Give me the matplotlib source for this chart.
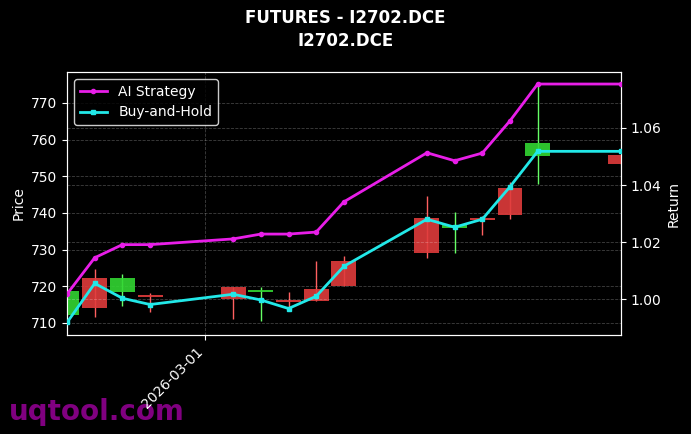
import matplotlib
matplotlib.use("Agg")
import matplotlib.pyplot as plt
import matplotlib.dates as mdates
import pandas as pd

dates = ["2026-02-24", "2026-02-25", "2026-02-26", "2026-02-27", "2026-03-02",
         "2026-03-03", "2026-03-04", "2026-03-05", "2026-03-06", "2026-03-09",
         "2026-03-10", "2026-03-11", "2026-03-12", "2026-03-13", "2026-03-16"]
opens = [718.7, 714.2, 722.3, 717.1, 716.5, 718.7, 715.6, 716.0, 720.2, 729.2,
         736.7, 738.1, 739.4, 759.0, 753.4]
closes = [712.2, 722.3, 718.5, 717.4, 719.9, 718.3, 716.3, 719.3, 726.9, 738.5,
          735.8, 738.5, 746.7, 755.6, 755.8]
highs = [718.7, 724.6, 723.4, 718.1, 719.9, 719.7, 718.4, 727.0, 728.3, 744.6,
         740.3, 739.2, 748.5, 775.3, 755.8]
lows = [712.2, 711.6, 714.6, 713.1, 711.0, 710.6, 714.4, 716.0, 720.2, 727.6,
        729.2, 734.0, 738.3, 748.0, 753.4]
ai_strategy = [1.0018, 1.0145, 1.0191, 1.0191, 1.0211, 1.0228, 1.0228, 1.0235,
               1.0341, 1.0513, 1.0485, 1.0512, 1.0625, 1.0754, 1.0754]
buy_hold = [0.9918, 1.0055, 1.0003, 0.9981, 1.0017, 0.9997, 0.9967, 1.0010,
            1.0115, 1.0280, 1.0252, 1.0280, 1.0394, 1.0518, 1.0518]

x = pd.to_datetime(dates)

plt.style.use("dark_background")
fig = plt.figure(figsize=(6.91, 4.34), dpi=100)
ax = fig.add_axes([0.097, 0.228, 0.8013, 0.606])
ax2 = ax.twinx()

# candles: red = up, green = down
for d, o, c, h, l in zip(x, opens, closes, highs, lows):
    up = c >= o
    body_col = "#e03c3c" if up else "#33d633"
    wick_col = "#ff6060" if up else "#66ff66"
    ax.vlines(d, l, h, color=wick_col, linewidth=1, zorder=2)
    bottom = min(o, c)
    hgt = max(abs(c - o), 0.6)
    ax.bar(d, hgt, bottom=bottom, width=0.9, color=body_col, alpha=0.9, zorder=3)

ax2.plot(x, ai_strategy, color="#e81ee8", linewidth=2, marker="o", markersize=3,
         label="AI Strategy", zorder=5)
ax2.plot(x, buy_hold, color="#22e8e8", linewidth=2, marker="s", markersize=3,
         label="Buy-and-Hold", zorder=5)

ax.set_xlim(x[0], x[-1])
ax.set_ylim(706.7, 778.4)
ax2.set_ylim(0.9874, 1.0796)
ax.set_yticks([710, 720, 730, 740, 750, 760, 770])
ax2.set_yticks([1.00, 1.02, 1.04, 1.06])

ax.xaxis.set_major_locator(mdates.MonthLocator())
ax.xaxis.set_major_formatter(mdates.DateFormatter("%Y-%m-%d"))
plt.setp(ax.get_xticklabels(), rotation=45, ha="right")

ax.grid(True, linestyle="--", linewidth=0.6, alpha=0.25)
ax2.grid(True, linestyle="--", linewidth=0.6, alpha=0.25)

ax.set_ylabel("Price")
ax2.set_ylabel("Return")
for a in (ax, ax2):
    for s in a.spines.values():
        s.set_color("white")

ax2.legend(loc="upper left", facecolor="black", edgecolor="white")

fig.suptitle("FUTURES - I2702.DCE\nI2702.DCE", fontsize=12, fontweight="bold",
             y=0.98, linespacing=1.35)
fig.text(0.013, 0.032, "uqtool.com", fontsize=20, fontweight="bold",
         color="#800080", zorder=-1)

fig.savefig("out.png", dpi=100)
